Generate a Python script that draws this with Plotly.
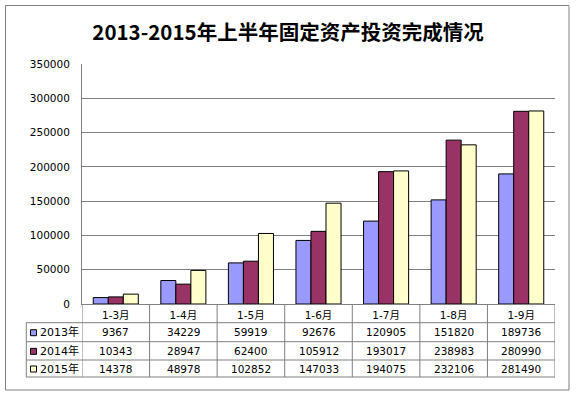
import plotly.graph_objects as go

categories = ["1-3月", "1-4月", "1-5月", "1-6月", "1-7月", "1-8月", "1-9月"]
series_names = ["2013年", "2014年", "2015年"]
v2013 = [9367, 34229, 59919, 92676, 120905, 151820, 189736]
v2014 = [10343, 28947, 62400, 105912, 193017, 238983, 280990]
v2015 = [14378, 48978, 102852, 147033, 194075, 232106, 281490]
colors = ["#9999FF", "#993366", "#FFFFCC"]
title_text = "2013-2015年上半年固定资产投资完成情况"

W, H = 576, 397
L, R, T, B = 82, 555, 64, 304  # plot area pixels

def px(x):
    return (x - L) / (R - L)

def py(y):
    return (B - y) / (B - T)

FONT = "DejaVu Sans, Noto Sans CJK SC, sans-serif"
GRAY = "#808080"

fig = go.Figure()
for name, vals, c in zip(series_names, [v2013, v2014, v2015], colors):
    fig.add_trace(go.Bar(x=categories, y=vals, name=name, marker=dict(color=c, line=dict(color="black", width=1))))

shapes = []
annotations = []

# outer border
shapes.append(dict(type="rect", xref="paper", yref="paper", x0=px(5.5), x1=px(569), y0=py(5.5), y1=py(390),
                   line=dict(color=GRAY, width=1), layer="below"))

# table geometry
row_lines = [322.7, 341.7, 360, 377]
table_left = 26.3
for i, yl in enumerate(row_lines):
    shapes.append(dict(type="line", xref="paper", yref="paper", x0=px(table_left), x1=px(R),
                       y0=py(yl), y1=py(yl), line=dict(color=GRAY, width=1)))
shapes.append(dict(type="line", xref="paper", yref="paper", x0=px(table_left), x1=px(table_left),
                   y0=py(row_lines[0]), y1=py(row_lines[-1]), line=dict(color=GRAY, width=1)))
for k in range(len(categories) + 1):
    xk = k - 0.5
    shapes.append(dict(type="line", xref="x", yref="paper", x0=xk, x1=xk,
                       y0=0, y1=py(row_lines[-1]), line=dict(color=GRAY, width=1)))

row_centers = [(row_lines[i] + row_lines[i + 1]) / 2 for i in range(3)]
for name, vals, c, yc in zip(series_names, [v2013, v2014, v2015], colors, row_centers):
    shapes.append(dict(type="rect", xref="paper", yref="paper", x0=px(30.5), x1=px(36.5),
                       y0=py(yc - 2.5), y1=py(yc + 3.5), fillcolor=c, line=dict(color="black", width=1)))
    annotations.append(dict(xref="paper", yref="paper", x=px(37.5), y=py(yc), text=name, showarrow=False,
                            xanchor="left", yanchor="middle", font=dict(family=FONT, size=11, color="black")))
    for k, v in enumerate(vals):
        annotations.append(dict(xref="x", yref="paper", x=k, y=py(yc), text=str(v), showarrow=False,
                                xanchor="center", yanchor="middle", font=dict(family=FONT, size=10.5, color="black")))

fig.update_layout(
    width=W, height=H,
    margin=dict(l=L, r=W - R, t=T, b=H - B),
    paper_bgcolor="white", plot_bgcolor="white",
    barmode="group", bargap=0.333, bargroupgap=0,
    showlegend=False,
    title=dict(text="<b>" + title_text + "</b>", x=0.5, xanchor="center", y=1 - 33 / H, yanchor="middle",
               font=dict(family="Noto Sans CJK SC, sans-serif", size=20.5, color="black")),
    shapes=shapes, annotations=annotations,
    font=dict(family=FONT, size=10.5, color="black"),
)
fig.update_xaxes(showgrid=False, showline=True, linecolor=GRAY, linewidth=1, ticks="",
                 tickfont=dict(family=FONT, size=10.5, color="black"), ticklabelstandoff=1,
                 range=[-0.5, 6.5])
fig.update_yaxes(range=[0, 350000], dtick=50000, showgrid=True, gridcolor=GRAY, gridwidth=1,
                 showline=True, linecolor=GRAY, linewidth=1, zeroline=False, ticks="",
                 tickformat="d", ticklabelstandoff=9,
                 tickfont=dict(family=FONT, size=10.5, color="black"))

fig.write_html("out.html", config={"displayModeBar": False},
               post_script="document.body.style.margin='0';document.body.style.overflow='hidden';")
